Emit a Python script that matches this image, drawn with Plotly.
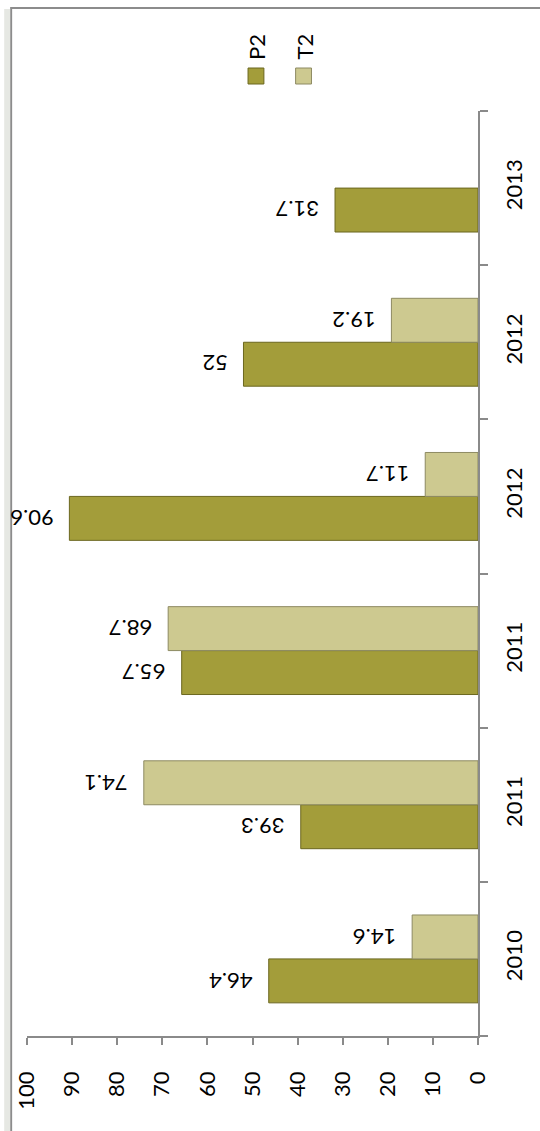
import plotly.graph_objects as go

# Categories (bottom to top) and series values
categories = ["2010", "2011", "2011", "2012", "2012", "2013"]
p2_values = [46.4, 39.3, 65.7, 90.6, 52, 31.7]
t2_values = [14.6, 74.1, 68.7, 11.7, 19.2, None]
value_ticks = [0, 10, 20, 30, 40, 50, 60, 70, 80, 90, 100]

W, H = 540, 1131
ML, MR, MT, MB = 23, 62, 111, 95
BARGAP = 0.43
bar_w = (1 - BARGAP) / 2

P2_FILL = "#a39d3a"
P2_LINE = "#6b671f"
T2_FILL = "#cdc990"
T2_LINE = "#8d8a62"
AXIS = "#8a8a8a"
FONT = "Lato"
FS = 22

pos = list(range(len(categories)))

fig = go.Figure()
fig.add_trace(go.Bar(
    y=pos, x=p2_values, orientation="h", name="P2",
    marker=dict(color=P2_FILL, line=dict(color=P2_LINE, width=1)),
))
fig.add_trace(go.Bar(
    y=pos, x=t2_values, orientation="h", name="T2",
    marker=dict(color=T2_FILL, line=dict(color=T2_LINE, width=1)),
))

# Value labels, drawn upside down just past each bar tip
annotations = []
for series, off in ((p2_values, -bar_w / 2), (t2_values, bar_w / 2)):
    for i, v in enumerate(series):
        if v is None:
            continue
        annotations.append(dict(
            x=v, y=i + off, xref="x", yref="y", text=f"{v:g}",
            showarrow=False, textangle=180, xanchor="right", yanchor="middle",
            xshift=-14, font=dict(family=FONT, size=FS, color="black"),
        ))

# Legend drawn vertically near the top
plot_w = W - ML - MR
plot_h = H - MT - MB
def px_x(x):
    return (x - ML) / plot_w
def px_y(y):
    return 1 - (y - MT) / plot_h

for name, cx in (("P2", 254), ("T2", 302)):
    annotations.append(dict(
        x=px_x(cx), y=px_y(62), xref="paper", yref="paper", text=name,
        showarrow=False, textangle=-90, xanchor="center", yanchor="bottom",
        font=dict(family=FONT, size=FS, color="black"),
    ))

shapes = []
for cx, fill, line in ((254, P2_FILL, P2_LINE), (302, T2_FILL, T2_LINE)):
    shapes.append(dict(
        type="rect", xref="paper", yref="paper",
        x0=px_x(cx - 8), x1=px_x(cx + 8), y0=px_y(68), y1=px_y(84),
        fillcolor=fill, line=dict(color=line, width=1),
    ))

# Chart frame (left and top edges visible)
shapes.append(dict(
    type="rect", xref="paper", yref="paper",
    x0=px_x(7), x1=px_x(W + 20), y0=px_y(H + 20), y1=px_y(8),
    line=dict(color="#8c8c8c", width=2), fillcolor="rgba(0,0,0,0)", layer="below",
))
shapes.append(dict(
    type="rect", xref="paper", yref="paper",
    x0=px_x(0), x1=px_x(6), y0=px_y(H), y1=px_y(9),
    line=dict(width=0), fillcolor="#e6e8e3", layer="below",
))
# Value axis line continues a little past the zero tick
shapes.append(dict(
    type="line", xref="paper", yref="paper",
    x0=1, x1=px_x(488), y0=0, y1=0,
    line=dict(color=AXIS, width=1.5),
))

fig.update_layout(
    width=W, height=H,
    margin=dict(l=ML, r=MR, t=MT, b=MB),
    paper_bgcolor="white", plot_bgcolor="white",
    barmode="group", bargap=BARGAP, bargroupgap=0,
    showlegend=False,
    annotations=annotations, shapes=shapes,
    font=dict(family=FONT, size=FS, color="black"),
    xaxis=dict(
        range=[100, 0], tickvals=value_ticks, ticktext=[str(t) for t in value_ticks],
        tickangle=-90, ticks="outside", ticklen=7, tickwidth=1.5, tickcolor=AXIS,
        showline=True, linecolor=AXIS, linewidth=1.5, showgrid=False,
        zeroline=False, ticklabelstandoff=18,
        tickfont=dict(family=FONT, size=FS, color="black"),
    ),
    yaxis=dict(
        range=[-0.5, len(categories) - 0.5], side="right",
        tickvals=pos, ticktext=categories, tickangle=-90, ticks="",
        showline=True, linecolor=AXIS, linewidth=1.5, showgrid=False,
        zeroline=False, ticklabelstandoff=16,
        minor=dict(tick0=-0.5, dtick=1, ticks="outside", ticklen=8,
                   tickwidth=1.5, tickcolor=AXIS, showgrid=False),
        tickfont=dict(family=FONT, size=FS, color="black"),
    ),
)

fig.write_html("out.html")
